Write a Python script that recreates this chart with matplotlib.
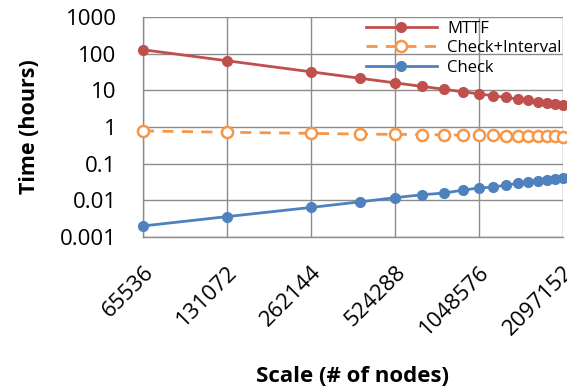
import numpy as np
import matplotlib
matplotlib.use("Agg")
import matplotlib.pyplot as plt
from matplotlib.ticker import FixedLocator, FixedFormatter, NullLocator

# scale factors of 65536 nodes
mult = [1, 2, 4, 6, 8, 10, 12, 14, 16, 18, 20, 22, 24, 26, 28, 30, 32]
nodes = [65536 * k for k in mult]

# hours
mttf = [128, 64, 32, 21.3, 16, 12.8, 10.7, 9.1, 8.0, 7.1, 6.4, 5.8, 5.3, 4.9, 4.6, 4.3, 4.0]
check_interval = [0.78, 0.72, 0.67, 0.64, 0.63, 0.62, 0.61, 0.60, 0.60, 0.59, 0.58, 0.58, 0.57, 0.57, 0.56, 0.56, 0.55]
check = [0.002, 0.0036, 0.0064, 0.0091, 0.0118, 0.0142, 0.0158, 0.019, 0.0217, 0.023, 0.026,
         0.029, 0.0316, 0.034, 0.036, 0.038, 0.040]

xticks = [65536, 131072, 262144, 524288, 1048576, 2097152]
yticks = [0.001, 0.01, 0.1, 1, 10, 100, 1000]
ylabels = ["0.001", "0.01", "0.1", "1", "10", "100", "1000"]

plt.rcParams['font.family'] = ['Open Sans', 'DejaVu Sans']

fig = plt.figure(figsize=(5.67, 3.86), dpi=100)
ax = fig.add_axes([143/567, 1 - 237/386, (563 - 143)/567, (237 - 17)/386])

red = '#C0504D'
orange = '#F79646'
blue = '#4F81BD'

ax.plot(nodes, mttf, color=red, lw=2, marker='o', ms=7, label='MTTF', clip_on=False, zorder=3)
ax.plot(nodes, check_interval, color=orange, lw=2, ls=(0, (4, 3)), marker='o', ms=8,
        mfc='white', mew=1.8, label='Check+Interval', clip_on=False, zorder=3)
ax.plot(nodes, check, color=blue, lw=2, marker='o', ms=7, label='Check', clip_on=False, zorder=3)

ax.set_xscale('log', base=2)
ax.set_yscale('log')
ax.set_xlim(65536, 2097152)
ax.set_ylim(0.001, 1000)

ax.xaxis.set_major_locator(FixedLocator(xticks))
ax.xaxis.set_major_formatter(FixedFormatter([str(v) for v in xticks]))
ax.xaxis.set_minor_locator(NullLocator())
ax.yaxis.set_major_locator(FixedLocator(yticks))
ax.yaxis.set_major_formatter(FixedFormatter(ylabels))
ax.yaxis.set_minor_locator(NullLocator())

ax.grid(True, color='#8C8C8C', lw=1)
ax.set_axisbelow(True)
for s in ['top', 'right']:
    ax.spines[s].set_visible(False)
for s in ['left', 'bottom']:
    ax.spines[s].set_color('#8C8C8C')
    ax.spines[s].set_linewidth(1)

ax.tick_params(axis='both', length=0, labelsize=16, colors='black')
ax.tick_params(axis='y', pad=19)
ax.tick_params(axis='x', pad=18)
for lab in ax.get_xticklabels():
    lab.set_rotation(45)
    lab.set_ha('right')
    lab.set_va('top')
    lab.set_rotation_mode('anchor')

ax.set_ylabel('Time (hours)', fontsize=15.5, fontweight='bold', labelpad=14)
ax.set_xlabel('Scale (# of nodes)', fontsize=16, fontweight='bold', labelpad=19)

leg = ax.legend(loc='upper right', bbox_to_anchor=(1.025, 1.035), frameon=False, fontsize=12,
                handlelength=4.3, handletextpad=0.6, labelspacing=0.2, borderpad=0.2)

fig.savefig('out.png', dpi=100)
